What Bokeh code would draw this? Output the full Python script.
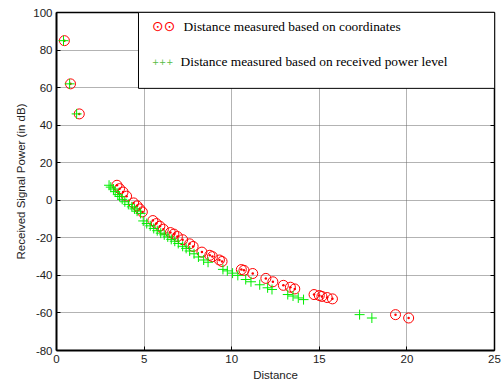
from bokeh.plotting import figure
from bokeh.models import Range1d, FixedTicker, LinearAxis, BoxAnnotation, Label, CustomJSTickFormatter
from bokeh.embed import file_html
from bokeh.resources import INLINE

# Data: distance measured based on coordinates (red circles with dots)
coord_x = [0.45, 0.8, 1.3, 3.45, 3.6, 3.8, 4.0, 4.4, 4.6, 4.75, 4.9, 5.5, 5.7, 5.9, 6.1,
           6.5, 6.7, 6.9, 7.2, 7.6, 7.8, 8.3, 8.75, 8.9, 9.3, 9.45, 10.55, 10.7, 11.2,
           11.95, 12.35, 12.95, 13.35, 13.6, 14.7, 15.0, 15.15, 15.45, 15.75, 19.35, 20.1]
coord_y = [85, 62, 46, 8, 6.2, 4.4, 2.2, -1.4, -3.0, -4.6, -6.2, -10.8, -12.4, -13.8, -15.4,
           -17.2, -18.0, -19.3, -21.0, -23.2, -24.6, -27.6, -29.3, -30.0, -31.8, -32.6, -36.9,
           -37.3, -39.0, -41.6, -43.4, -45.3, -46.3, -47.2, -50.2, -50.7, -51.2, -51.8, -52.5,
           -60.9, -62.7]

# Data: distance measured based on received power level (green crosses)
power_x = [0.4, 0.75, 1.15, 3.0, 3.1, 3.25, 3.35, 3.5, 3.6, 3.75, 3.9, 4.1, 4.3, 4.45, 4.6,
           4.8, 4.95, 5.15, 5.35, 5.55, 5.75, 5.95, 6.15, 6.35, 6.55, 6.75, 6.95, 7.2, 7.4,
           7.6, 7.85, 8.1, 8.4, 8.65, 9.5, 9.75, 10.05, 10.35, 10.8, 11.1, 11.6, 12.05, 12.3,
           13.2, 13.5, 13.8, 14.1, 17.3, 18.0]
power_y = [85, 62, 46, 8, 7, 6, 4.6, 3, 2, 0.5, -0.8, -2.2, -3.5, -4.6, -5.8,
           -7, -11, -12.4, -13.6, -15, -16.2, -17.5, -18.4, -19.5, -20.8, -21.8, -23, -24.5,
           -25.6, -27, -28.5, -30.2, -31.8, -33, -36.8, -37.6, -38.8, -40, -42.2, -43.4, -45,
           -46.6, -47.5, -50.2, -51, -52, -52.9, -60.9, -62.7]

x_ticks = [0, 5, 10, 15, 20, 25]
y_ticks = [-80, -60, -40, -20, 0, 20, 40, 60, 80, 100]
y_tick_labels = ["-80", "-60", "-40", "-20", "0", "20", "40", "60", "80", "100"]
legend_labels = ["Distance measured based on coordinates",
                 "Distance measured based on received power level"]

p = figure(width=501, height=385, output_backend="svg", toolbar_location=None,
           x_range=Range1d(0, 25), y_range=Range1d(-80, 100),
           min_border_left=56, min_border_right=7, min_border_top=12, min_border_bottom=35)
p.outline_line_color = None
p.background_fill_color = "white"
p.border_fill_color = "white"

for ax in (p.xaxis[0], p.yaxis[0]):
    ax.major_label_text_font = "Liberation Sans"
    ax.major_label_text_font_size = "11.5px"
    ax.major_label_text_color = "#222222"
    ax.axis_label_text_font = "Liberation Sans"
    ax.axis_label_text_font_size = "11.5px"
    ax.axis_label_text_font_style = "normal"
    ax.axis_label_text_color = "#222222"
    ax.major_tick_in = 4
    ax.major_tick_out = 0
    ax.minor_tick_line_color = None
    ax.axis_line_width = 2
    ax.axis_line_color = "black"
    ax.major_tick_line_color = "black"
    ax.major_label_standoff = 4
    ax.axis_label_standoff = 3

p.xaxis[0].ticker = FixedTicker(ticks=x_ticks)
p.yaxis[0].ticker = FixedTicker(ticks=y_ticks)
p.yaxis[0].major_label_overrides = {t: s for t, s in zip(y_ticks, y_tick_labels)}
p.xaxis[0].axis_label = "Distance"
p.yaxis[0].axis_label = "Received Signal Power (in dB)"

for loc, ticks in (("above", x_ticks), ("right", y_ticks)):
    ax = LinearAxis(ticker=FixedTicker(ticks=ticks),
                    formatter=CustomJSTickFormatter(code="return ''"))
    ax.major_label_standoff = 0
    ax.major_tick_in = 4
    ax.major_tick_out = 0
    ax.minor_tick_line_color = None
    ax.axis_line_width = 1.5
    ax.axis_line_color = "black"
    p.add_layout(ax, loc)

p.xgrid.ticker = FixedTicker(ticks=x_ticks)
p.ygrid.ticker = FixedTicker(ticks=y_ticks)
for g in (p.xgrid[0], p.ygrid[0]):
    g.grid_line_color = "#666666"
    g.grid_line_dash = "1 1"
    g.grid_line_width = 1

p.scatter(coord_x, coord_y, marker="circle_dot", size=10, fill_color=None,
          line_color="red", line_width=1)
p.scatter(power_x, power_y, marker="cross", size=10, line_color="#00ee00", line_width=1)

# Legend box (MATLAB-style, drawn as annotations)
p.add_layout(BoxAnnotation(left=4.68, right=25, bottom=59.6, top=100,
                           fill_color="white", fill_alpha=1,
                           line_color="black", line_alpha=1, line_width=1, level="overlay"))
p.add_layout(Label(x=5.45, y=92.8, text="\u2299\u2299", text_color="red",
                   text_font="DejaVu Sans", text_font_size="14px",
                   text_baseline="middle", level="overlay"))
p.add_layout(Label(x=7.25, y=92.6, text=legend_labels[0], text_color="black",
                   text_font="Liberation Serif", text_font_size="13.4px",
                   text_baseline="middle", level="overlay"))
p.add_layout(Label(x=5.45, y=74, text="+++", text_color="#55bb44",
                   text_font="DejaVu Sans", text_font_size="8.5px",
                   text_baseline="middle", level="overlay"))
p.add_layout(Label(x=7.08, y=74, text=legend_labels[1], text_color="black",
                   text_font="Liberation Serif", text_font_size="13.4px",
                   text_baseline="middle", level="overlay"))

open("out.html", "w").write(file_html(p, INLINE))
